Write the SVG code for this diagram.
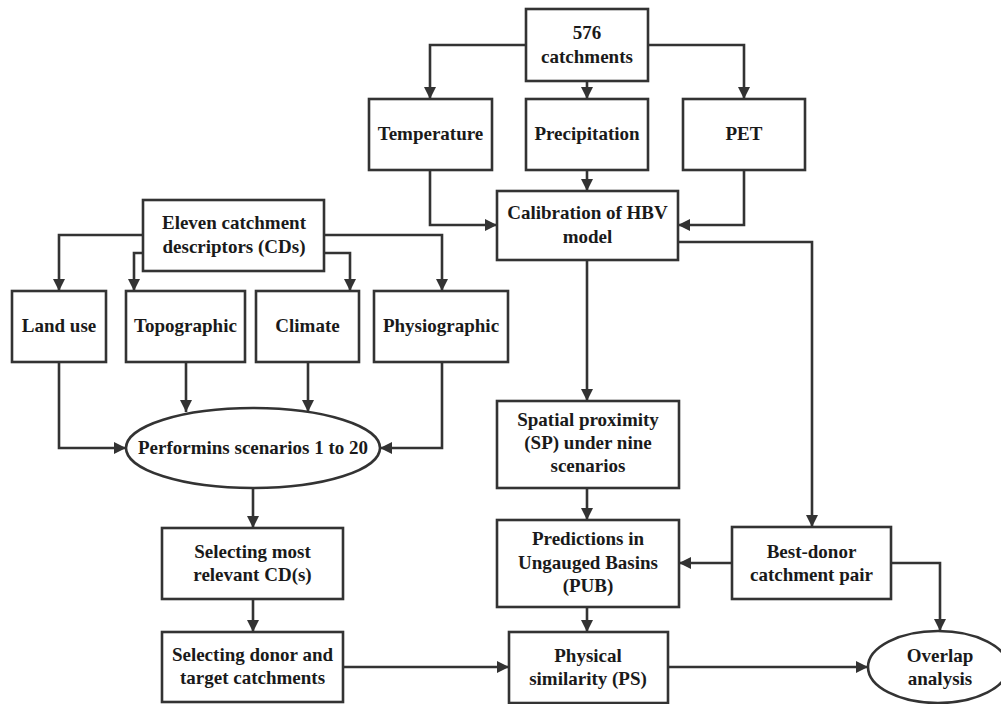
<svg xmlns="http://www.w3.org/2000/svg" width="1001" height="704" viewBox="0 0 1001 704">
<defs>
<marker id="ah" markerUnits="userSpaceOnUse" markerWidth="12" markerHeight="12" viewBox="0 0 10 10" refX="10" refY="5" orient="auto">
<path d="M0,0 L10,5 L0,10 z" fill="#333"/>
</marker>
<style>
.box{fill:#fff;stroke:#333;stroke-width:2.6}
.t{font-family:'Liberation Serif','DejaVu Serif',serif;font-weight:700;font-size:19px;fill:#1a1a1a;text-anchor:middle}
.c{fill:none;stroke:#333;stroke-width:2.6;marker-end:url(#ah)}
</style>
</defs>
<rect width="1001" height="704" fill="#fff"/>
<g id="connectors">
<polyline class="c" points="526,45 430,45 430,99"/>
<polyline class="c" points="587,81 587,99"/>
<polyline class="c" points="648,45 744,45 744,99"/>
<polyline class="c" points="430,170 430,225 497,225"/>
<polyline class="c" points="587,170 587,191"/>
<polyline class="c" points="744,170 744,225 678,225"/>
<polyline class="c" points="678,242 812,242 812,527"/>
<polyline class="c" points="587,260 587,401"/>
<polyline class="c" points="143,235 59,235 59,291"/>
<polyline class="c" points="143,253 134,253 134,291"/>
<polyline class="c" points="324,253 350,253 350,291"/>
<polyline class="c" points="324,235 442,235 442,291"/>
<polyline class="c" points="59,362 59,448 126,448"/>
<polyline class="c" points="186,362 186,412"/>
<polyline class="c" points="308,362 308,412"/>
<polyline class="c" points="442,362 442,448 380,448"/>
<polyline class="c" points="253,488 253,528"/>
<polyline class="c" points="253,599 253,632"/>
<polyline class="c" points="343,667 509,667"/>
<polyline class="c" points="587,488 587,520"/>
<polyline class="c" points="587,607 587,632"/>
<polyline class="c" points="732,563 679,563"/>
<polyline class="c" points="891,563 940,563 940,631"/>
<polyline class="c" points="668,667 868,667"/>
</g>
<g id="n576"><rect class="box" x="526" y="9" width="122" height="72"/><text class="t" x="587" y="39">576</text><text class="t" x="587" y="63">catchments</text></g>
<g id="temperature"><rect class="box" x="369" y="99" width="123" height="71"/><text class="t" x="430.5" y="140">Temperature</text></g>
<g id="precipitation"><rect class="box" x="526" y="99" width="122" height="71"/><text class="t" x="587" y="140">Precipitation</text></g>
<g id="pet"><rect class="box" x="683" y="99" width="122" height="71"/><text class="t" x="744" y="140">PET</text></g>
<g id="calibration"><rect class="box" x="497" y="191" width="181" height="69"/><text class="t" x="587.5" y="219">Calibration of HBV</text><text class="t" x="587.5" y="243">model</text></g>
<g id="eleven"><rect class="box" x="143" y="200" width="181" height="71"/><text class="t" x="234" y="229">Eleven catchment</text><text class="t" x="234" y="253">descriptors (CDs)</text></g>
<g id="landuse"><rect class="box" x="12" y="291" width="94" height="71"/><text class="t" x="59" y="332">Land use</text></g>
<g id="topographic"><rect class="box" x="126" y="291" width="119" height="71"/><text class="t" x="185.5" y="332">Topographic</text></g>
<g id="climate"><rect class="box" x="256" y="291" width="103" height="71"/><text class="t" x="307.5" y="332">Climate</text></g>
<g id="physiographic"><rect class="box" x="374" y="291" width="134" height="71"/><text class="t" x="441" y="332">Physiographic</text></g>
<g id="scenarios"><ellipse class="box" cx="253" cy="448" rx="127" ry="40"/><text class="t" x="253" y="454">Performins scenarios 1 to 20</text></g>
<g id="relevant"><rect class="box" x="162" y="528" width="181" height="71"/><text class="t" x="252.5" y="558">Selecting most</text><text class="t" x="252.5" y="581">relevant CD(s)</text></g>
<g id="donor"><rect class="box" x="162" y="632" width="181" height="70"/><text class="t" x="252.5" y="661">Selecting donor and</text><text class="t" x="252.5" y="684">target catchments</text></g>
<g id="spatial"><rect class="box" x="497" y="401" width="182" height="87"/><text class="t" x="588" y="426">Spatial proximity</text><text class="t" x="588" y="449">(SP) under nine</text><text class="t" x="588" y="472">scenarios</text></g>
<g id="pub"><rect class="box" x="497" y="520" width="182" height="87"/><text class="t" x="588" y="545">Predictions in</text><text class="t" x="588" y="569">Ungauged Basins</text><text class="t" x="588" y="592">(PUB)</text></g>
<g id="physical"><rect class="box" x="509" y="632" width="159" height="71"/><text class="t" x="588" y="662">Physical</text><text class="t" x="588" y="685">similarity (PS)</text></g>
<g id="bestdonor"><rect class="box" x="732" y="527" width="159" height="72"/><text class="t" x="811.5" y="558">Best-donor</text><text class="t" x="811.5" y="581">catchment pair</text></g>
<g id="overlap"><ellipse class="box" cx="938" cy="667" rx="70" ry="36"/><text class="t" x="940" y="662">Overlap</text><text class="t" x="940" y="685">analysis</text></g>
</svg>
